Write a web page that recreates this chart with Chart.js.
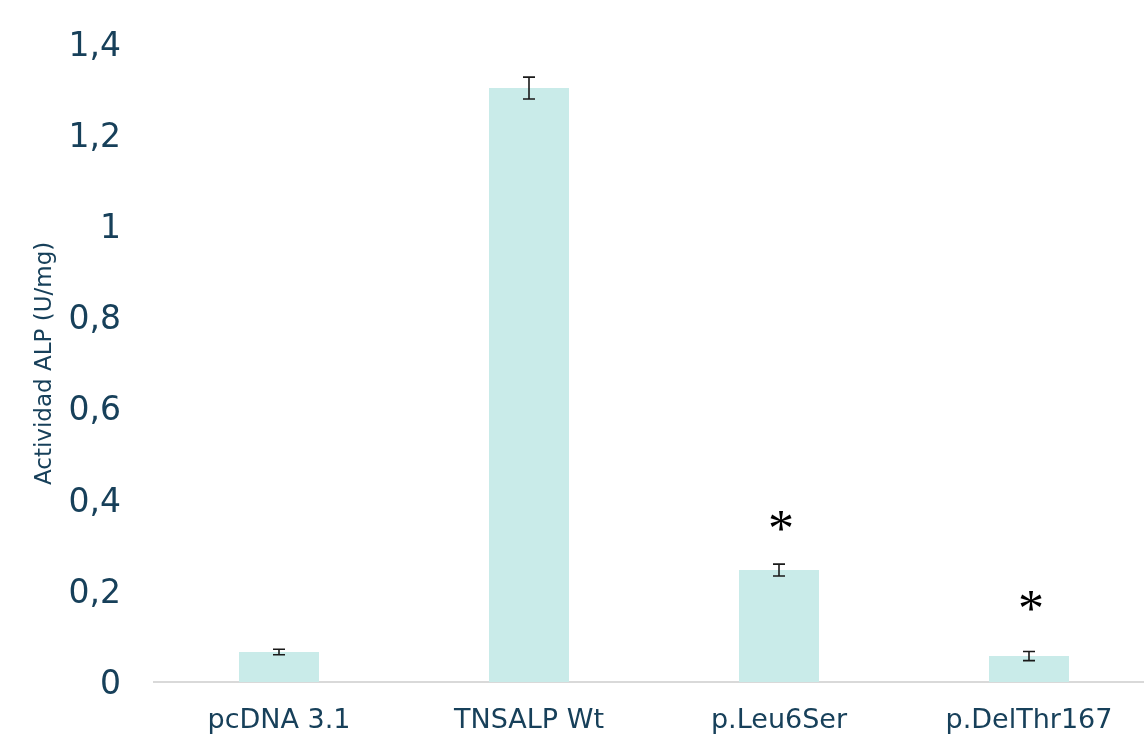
<!DOCTYPE html>
<html>
<head>
<meta charset="utf-8">
<script src="https://cdn.jsdelivr.net/npm/chart.js@4.4.1/dist/chart.umd.min.js"></script>
<style>
html,body{margin:0;padding:0;background:#fff;overflow:hidden;}
#wrap{width:1154px;height:737px;}
</style>
</head>
<body>
<div id="wrap"><canvas id="c" width="1154" height="737"></canvas></div>
<script>
const categories = ['pcDNA 3.1', 'TNSALP Wt', 'p.Leu6Ser', 'p.DelThr167'];
const activity = [0.066, 1.305, 0.246, 0.057];
const errors = [0.006, 0.024, 0.013, 0.010];
const sigLabels = ['', '', '*', '*'];
const sigValues = [null, null, 0.35, 0.176];
const yTicks = [0, 0.2, 0.4, 0.6, 0.8, 1, 1.2, 1.4];
const yTitle = 'Actividad ALP (U/mg)';

const textColor = '#17405a';

const errorBarPlugin = {
  id: 'errorBars',
  afterDatasetsDraw(chart) {
    const ctx = chart.ctx;
    const xs = chart.scales.x, ys = chart.scales.y;
    ctx.save();
    ctx.strokeStyle = '#1a1a1a';
    ctx.lineWidth = 1.6;
    activity.forEach((v, i) => {
      const x = xs.getPixelForValue(i);
      const yTop = ys.getPixelForValue(v + errors[i]);
      const yBot = ys.getPixelForValue(v - errors[i]);
      const cap = 6;
      ctx.beginPath();
      ctx.moveTo(x, yTop); ctx.lineTo(x, yBot);
      ctx.moveTo(x - cap, yTop); ctx.lineTo(x + cap, yTop);
      ctx.moveTo(x - cap, yBot); ctx.lineTo(x + cap, yBot);
      ctx.stroke();
    });
    ctx.fillStyle = '#000';
    ctx.font = '52px "Liberation Serif"';
    ctx.textAlign = 'center';
    ctx.textBaseline = 'middle';
    sigLabels.forEach((s, i) => {
      if (!s || sigValues[i] == null) return;
      const x = xs.getPixelForValue(i) + 2;
      const y = ys.getPixelForValue(sigValues[i]) + 10;
      ctx.fillText(s, x, y);
    });
    ctx.restore();
  }
};

new Chart(document.getElementById('c'), {
  type: 'bar',
  data: {
    labels: categories,
    datasets: [{
      data: activity,
      backgroundColor: '#c9ebe9',
      borderWidth: 0,
      barPercentage: 0.32,
      categoryPercentage: 1.0
    }]
  },
  options: {
    responsive: false,
    animation: false,
    devicePixelRatio: 1,
    layout: { padding: { top: 40, left: 0, right: 0, bottom: 0 } },
    plugins: { legend: { display: false }, tooltip: { enabled: false } },
    scales: {
      x: {
        grid: { display: false },
        border: { display: true, color: '#d9d9d9', width: 2 },
        ticks: {
          color: textColor,
          font: { family: 'DejaVu Sans', size: 27 },
          padding: 15,
          maxRotation: 0
        },
        afterFit(scale) { scale.height = 55; }
      },
      y: {
        min: 0,
        max: 1.4,
        grid: { display: false },
        border: { display: false },
        afterBuildTicks(scale) { scale.ticks = yTicks.map(v => ({ value: v })); },
        ticks: {
          color: textColor,
          font: { family: 'DejaVu Sans', size: 33 },
          padding: 25,
          labelOffset: 3,
          callback: v => String(Math.round(v * 10) / 10).replace('.', ',')
        },
        title: {
          display: true,
          text: yTitle,
          color: textColor,
          font: { family: 'DejaVu Sans', size: 23 },
          padding: { top: 31, bottom: 0 }
        },
        afterFit(scale) { scale.width = 154; }
      }
    }
  },
  plugins: [errorBarPlugin]
});
</script>
</body>
</html>
